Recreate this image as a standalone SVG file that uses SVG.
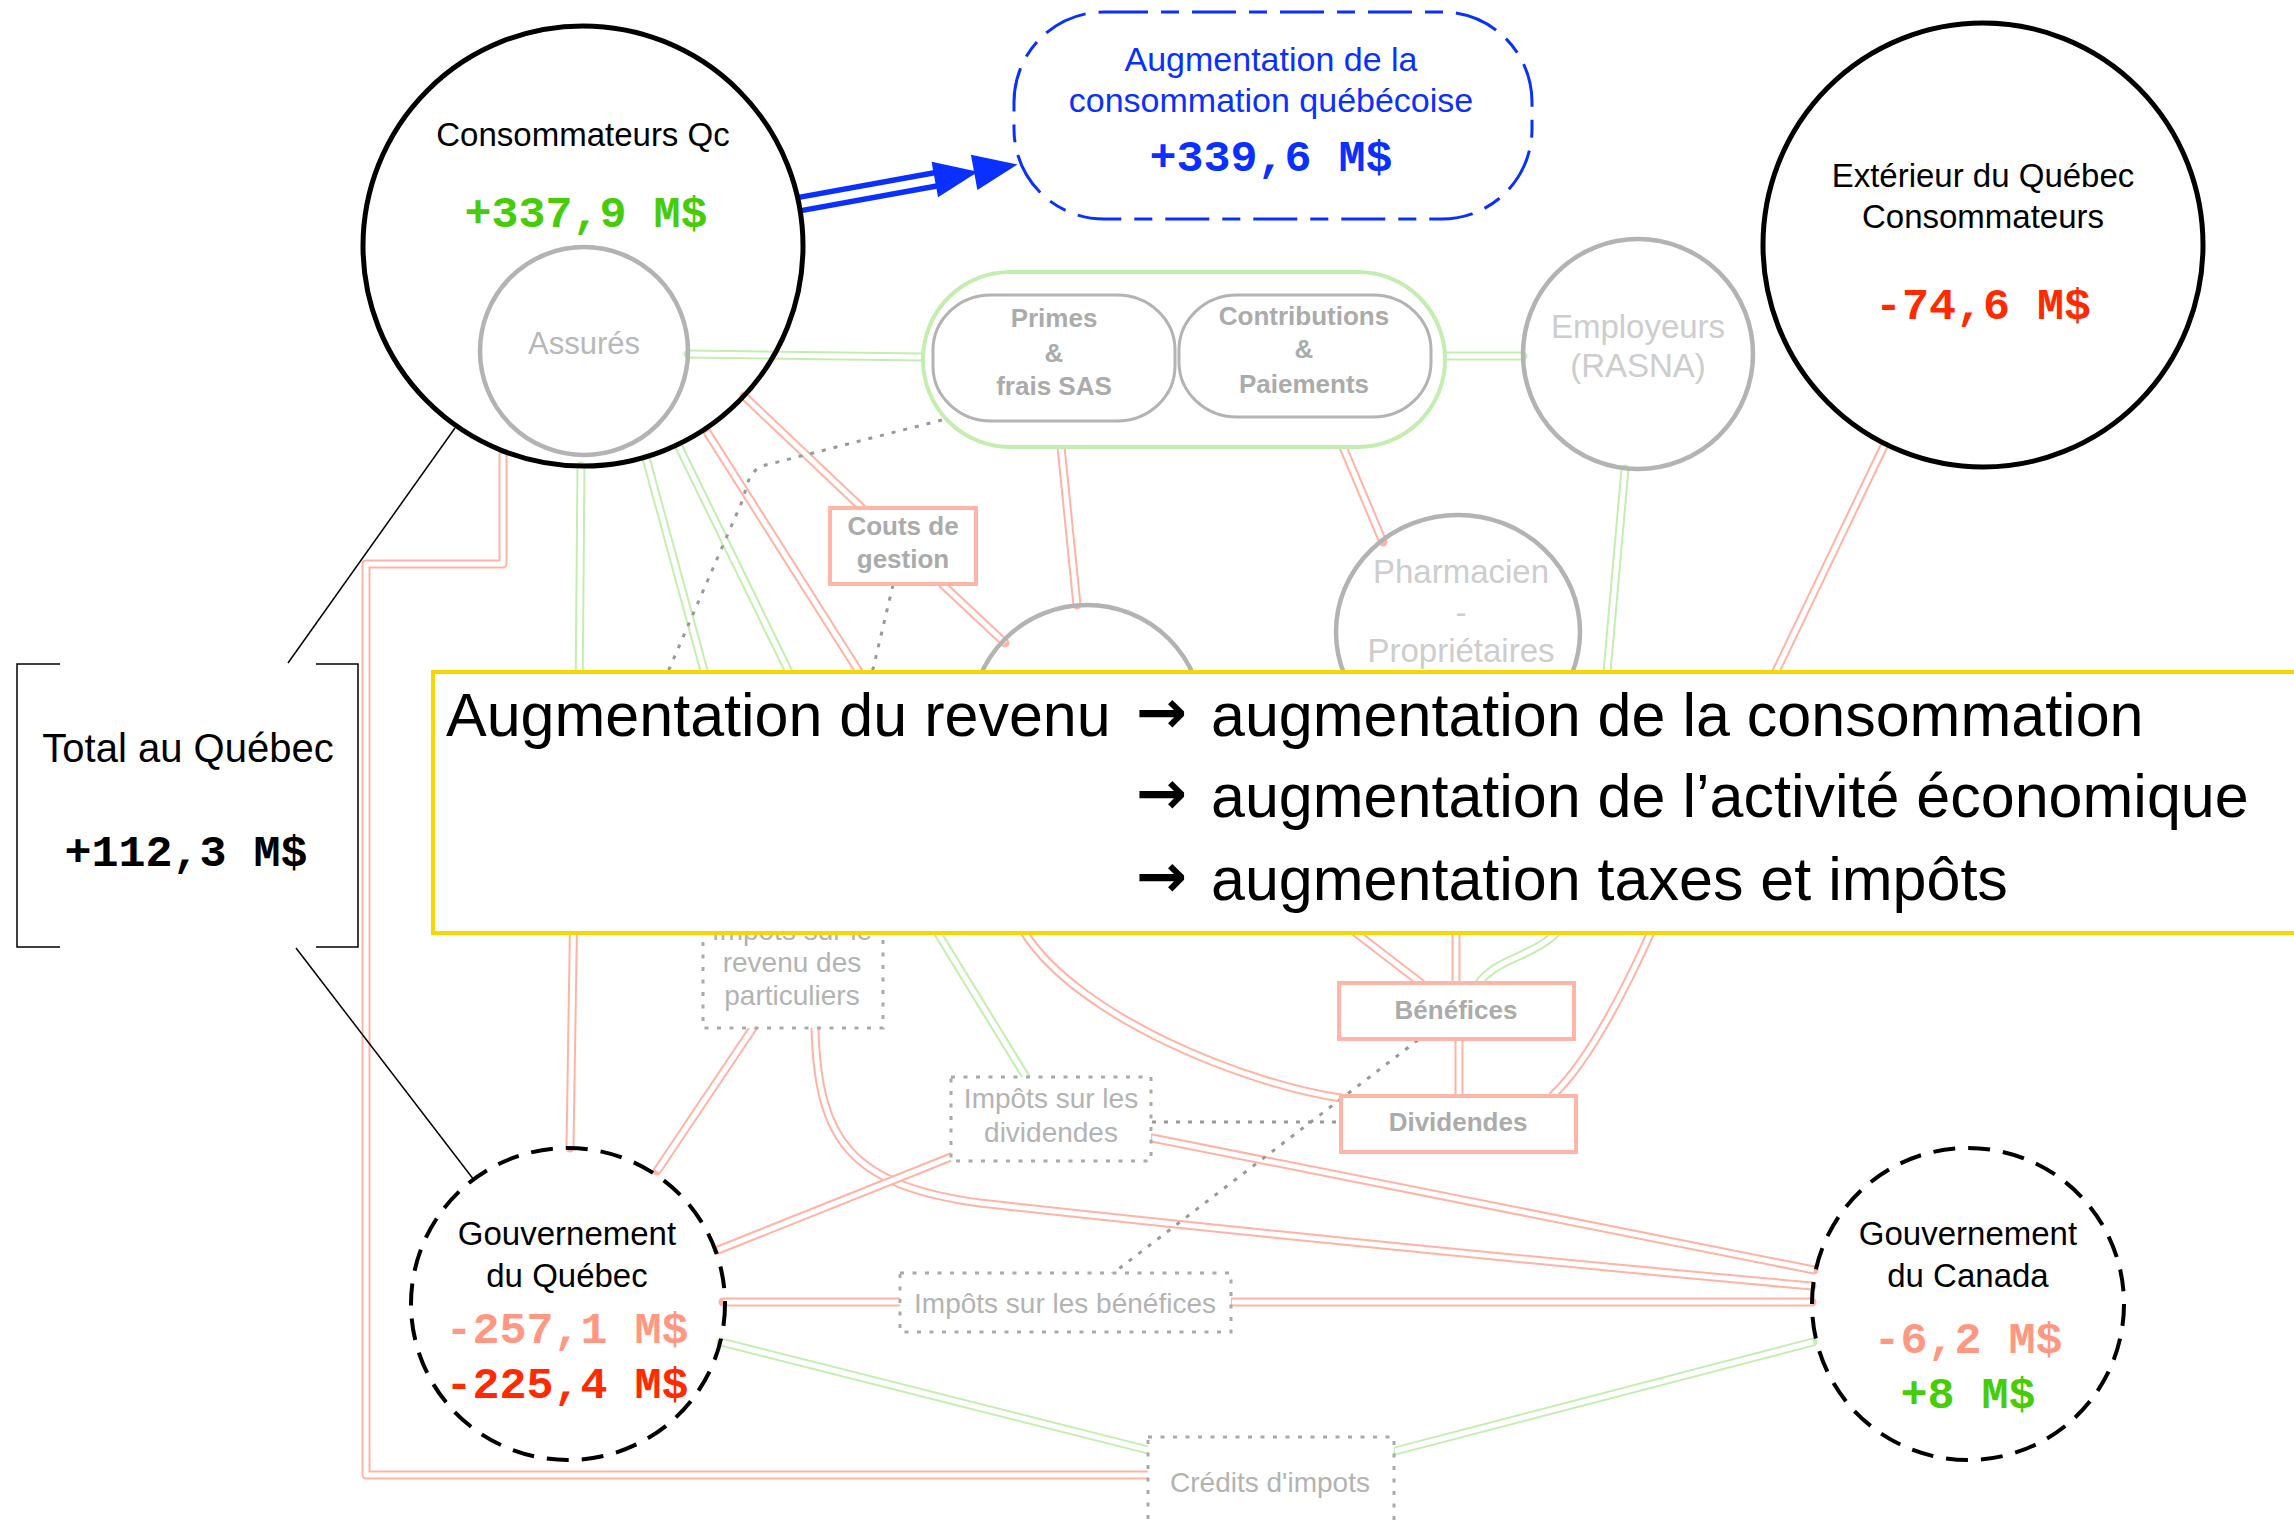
<svg xmlns="http://www.w3.org/2000/svg" width="2294" height="1527" viewBox="0 0 2294 1527">
<style>
text{font-family:"Liberation Sans",Arial,sans-serif;text-anchor:middle}
.blk{fill:#000;font-size:33px}
.mono{font-family:"Liberation Mono","Courier New",monospace;font-weight:bold;font-size:45px}
.grn{fill:#46cc08}
.red{fill:#ff2a00}
.sal{fill:#ff9882}
.blu{fill:#0a30ff}
.gtx{fill:#b8b8b8;font-size:31px}
.ltx{fill:#cdcdcd;font-size:33px}
.btx{fill:#ababab;font-size:26px;font-weight:bold}
.dtx{fill:#b3b3b3;font-size:28px}
.bigc{fill:none;stroke:#000;stroke-width:5}
.dashc{fill:none;stroke:#000;stroke-width:4;stroke-dasharray:22 13}
.grayc{fill:none;stroke:#b3b3b3;stroke-width:4.5}
.grayr{fill:#fff;stroke:#b3b3b3;stroke-width:3}
.pbox{fill:#fff;stroke:#ffb5a8;stroke-width:4}
.dbox{fill:#fff;stroke:#aaa;stroke-width:3;stroke-dasharray:4 8.5}
.go{fill:none;stroke:#c3eeb0;stroke-width:9;stroke-linecap:round;stroke-linejoin:round}
.ro{fill:none;stroke:#ffb3a5;stroke-width:9;stroke-linecap:round;stroke-linejoin:round}
.in{fill:none;stroke:#fff;stroke-width:5;stroke-linejoin:round}
.dot{fill:none;stroke:#999;stroke-width:3;stroke-dasharray:4 8}
.thin{fill:none;stroke:#000;stroke-width:1.5}
.big{fill:#000;font-size:61px;text-anchor:start}
.arr{font-family:"DejaVu Sans",sans-serif;font-weight:bold}
</style>
<defs>
<path id="g1" d="M688,354 L923,357"/>
<path id="g2" d="M1445,356 L1523,356"/>
<path id="g3" d="M581,466 L579,700"/>
<path id="g4" d="M646,458 L712,700"/>
<path id="g5" d="M679,447 L789,672 L937,932 L1026,1077"/>
<path id="g6" d="M1625,469 L1607,672 L1562,925 C1548,950 1505,958 1490,972 Q1482,978 1479,983"/>
<path id="g7" d="M721,1342 L1148,1450"/>
<path id="g8" d="M1395,1451 L1813,1342"/>
<path id="r1" d="M744,396 L862,508"/>
<path id="r2" d="M943,585 L1005,643"/>
<path id="r3" d="M707,432 L1024,932 C1079,1019 1250,1085 1341,1098"/>
<path id="r4" d="M503,454 L503,564 L366,564 L366,1475 L1148,1475"/>
<path id="r5" d="M577,700 L570,1148"/>
<path id="r6" d="M753,1028 L657,1171"/>
<path id="r7" d="M815,1028 C818,1140 850,1185 980,1203 C1150,1222 1500,1258 1812,1286"/>
<path id="r8" d="M951,1157 L718,1250"/>
<path id="r9" d="M1152,1138 L1814,1270"/>
<path id="r10" d="M723,1302 L900,1302"/>
<path id="r11" d="M1232,1302 L1812,1302"/>
<path id="r12" d="M1459,1039 L1459,1096"/>
<path id="r13" d="M1170,790 L1421,983"/>
<path id="r14" d="M1456,750 L1456,983"/>
<path id="r15" d="M1884,446 L1652,930 C1625,990 1590,1060 1553,1095"/>
<path id="r16" d="M1061,447 L1077,605"/>
<path id="r17" d="M1343,447 L1383,542"/>
<polygon id="tete" points="0,-18 44,0 0,18" fill="#0a30ff"/>
</defs>
<rect width="2294" height="1527" fill="#fff"/>

<g id="connectors">
  <use href="#g1" class="go"/><use href="#g1" class="in"/>
  <use href="#g2" class="go"/><use href="#g2" class="in"/>
  <use href="#g3" class="go"/><use href="#g3" class="in"/>
  <use href="#g4" class="go"/><use href="#g4" class="in"/>
  <use href="#g5" class="go"/><use href="#g5" class="in"/>
  <use href="#g6" class="go"/><use href="#g6" class="in"/>
  <use href="#g7" class="go"/><use href="#g7" class="in"/>
  <use href="#g8" class="go"/><use href="#g8" class="in"/>
  <use href="#r1" class="ro"/><use href="#r1" class="in"/>
  <use href="#r2" class="ro"/><use href="#r2" class="in"/>
  <use href="#r3" class="ro"/><use href="#r3" class="in"/>
  <use href="#r4" class="ro"/><use href="#r4" class="in"/>
  <use href="#r5" class="ro"/><use href="#r5" class="in"/>
  <use href="#r6" class="ro"/><use href="#r6" class="in"/>
  <use href="#r7" class="ro"/><use href="#r7" class="in"/>
  <use href="#r8" class="ro"/><use href="#r8" class="in"/>
  <use href="#r9" class="ro"/><use href="#r9" class="in"/>
  <use href="#r10" class="ro"/><use href="#r10" class="in"/>
  <use href="#r11" class="ro"/><use href="#r11" class="in"/>
  <use href="#r12" class="ro"/><use href="#r12" class="in"/>
  <use href="#r13" class="ro"/><use href="#r13" class="in"/>
  <use href="#r14" class="ro"/><use href="#r14" class="in"/>
  <use href="#r15" class="ro"/><use href="#r15" class="in"/>
  <use href="#r16" class="ro"/><use href="#r16" class="in"/>
  <use href="#r17" class="ro"/><use href="#r17" class="in"/>
  <path class="dot" d="M942,420 L762,466 Q748,472 744,497 L660,690"/>
  <path class="dot" d="M893,585 L868,690"/>
  <path class="dot" d="M1418,1040 L1112,1274"/>
  <path class="dot" d="M1152,1122 L1342,1122"/>
  <path class="thin" d="M288,663 L455,428"/>
  <path class="thin" d="M296,948 L474,1180"/>
  <g id="fleche-bleue" transform="translate(800,204) rotate(-10.3)">
    <path d="M0,0 L142,0" stroke="#0a30ff" stroke-width="19"/>
    <path d="M0,0 L142,0" stroke="#fff" stroke-width="8"/>
    <use href="#tete" x="137"/>
    <use href="#tete" x="177"/>
  </g>
</g>

<g id="consommateurs-qc">
  <circle class="bigc" cx="583" cy="246" r="220"/>
  <text class="blk" x="583" y="146">Consommateurs Qc</text>
  <text class="mono grn" x="586" y="227">+337,9 M$</text>
</g>
<g id="assures">
  <circle class="grayc" cx="584" cy="351" r="104"/>
  <text class="gtx" x="584" y="354">Assurés</text>
</g>
<g id="augmentation-consommation">
  <rect x="1014" y="12" width="518" height="207" rx="90" ry="90" fill="none" stroke="#0a30ff" stroke-width="3" stroke-dasharray="44 13 18 13"/>
  <text class="blu" x="1271" y="71" font-size="34">Augmentation de la</text>
  <text class="blu" x="1271" y="112" font-size="34">consommation québécoise</text>
  <text class="mono blu" x="1271" y="171">+339,6 M$</text>
</g>
<g id="primes-contributions">
  <rect x="923" y="272" width="522" height="175" rx="87" ry="87" fill="#fff" stroke="#c3eeb0" stroke-width="4"/>
</g>
<g id="primes">
  <rect class="grayr" x="933" y="295" width="242" height="126" rx="58" ry="55"/>
  <text class="btx" x="1054" y="327">Primes</text>
  <text class="btx" x="1054" y="362">&amp;</text>
  <text class="btx" x="1054" y="395">frais SAS</text>
</g>
<g id="contributions">
  <rect class="grayr" x="1179" y="295" width="252" height="122" rx="58" ry="55"/>
  <text class="btx" x="1304" y="325">Contributions</text>
  <text class="btx" x="1304" y="358">&amp;</text>
  <text class="btx" x="1304" y="393">Paiements</text>
</g>
<g id="employeurs">
  <circle class="grayc" cx="1638" cy="354" r="115"/>
  <text class="ltx" x="1638" y="338">Employeurs</text>
  <text class="ltx" x="1638" y="377">(RASNA)</text>
</g>
<g id="exterieur">
  <ellipse class="bigc" cx="1983" cy="245" rx="220" ry="222"/>
  <text class="blk" x="1983" y="187">Extérieur du Québec</text>
  <text class="blk" x="1983" y="228">Consommateurs</text>
  <text class="mono red" x="1983" y="319">-74,6 M$</text>
</g>
<g id="couts-gestion">
  <rect class="pbox" x="830" y="508" width="146" height="76"/>
  <text class="btx" x="903" y="535">Couts de</text>
  <text class="btx" x="903" y="568">gestion</text>
</g>
<g id="noeud-central">
  <circle class="grayc" cx="1087" cy="721" r="116"/>
</g>
<g id="pharmacien">
  <ellipse class="grayc" cx="1458" cy="632" rx="122" ry="117"/>
  <text class="ltx" x="1461" y="583">Pharmacien</text>
  <text class="ltx" x="1461" y="624">-</text>
  <text class="ltx" x="1461" y="662">Propriétaires</text>
</g>
<g id="impots-revenu">
  <rect class="dbox" x="703" y="895" width="180" height="133"/>
  <text class="dtx" x="792" y="940">Impôts sur le</text>
  <text class="dtx" x="792" y="972">revenu des</text>
  <text class="dtx" x="792" y="1005">particuliers</text>
</g>
<g id="benefices">
  <rect class="pbox" x="1339" y="983" width="235" height="56"/>
  <text class="btx" x="1456" y="1019">Bénéfices</text>
</g>
<g id="dividendes">
  <rect class="pbox" x="1341" y="1096" width="235" height="56"/>
  <text class="btx" x="1458" y="1131">Dividendes</text>
</g>
<g id="impots-dividendes">
  <rect class="dbox" x="951" y="1077" width="200" height="84"/>
  <text class="dtx" x="1051" y="1108">Impôts sur les</text>
  <text class="dtx" x="1051" y="1142">dividendes</text>
</g>
<g id="impots-benefices">
  <rect class="dbox" x="900" y="1273" width="331" height="59"/>
  <text class="dtx" x="1065" y="1313">Impôts sur les bénéfices</text>
</g>
<g id="credits-impots">
  <rect class="dbox" x="1148" y="1437" width="246" height="120"/>
  <text class="dtx" x="1270" y="1492">Crédits d'impots</text>
</g>
<g id="gouv-quebec">
  <ellipse class="dashc" cx="568" cy="1304" rx="157" ry="156"/>
  <text class="blk" x="567" y="1245">Gouvernement</text>
  <text class="blk" x="567" y="1287">du Québec</text>
  <text class="mono sal" x="567" y="1343">-257,1 M$</text>
  <text class="mono red" x="567" y="1398">-225,4 M$</text>
</g>
<g id="gouv-canada">
  <ellipse class="dashc" cx="1968" cy="1304" rx="156" ry="156"/>
  <text class="blk" x="1968" y="1245">Gouvernement</text>
  <text class="blk" x="1968" y="1287">du Canada</text>
  <text class="mono sal" x="1968" y="1353">-6,2 M$</text>
  <text class="mono grn" x="1968" y="1408">+8 M$</text>
</g>
<g id="total-quebec">
  <path class="thin" d="M60,664 L17,664 L17,947 L60,947 M316,664 L358,664 L358,947 L316,947"/>
  <text x="188" y="762" font-size="40" fill="#000">Total au Québec</text>
  <text class="mono" x="186" y="866" fill="#000">+112,3 M$</text>
</g>
<g id="note">
  <rect x="433" y="672" width="1900" height="261" fill="#fff" stroke="#f7d700" stroke-width="4"/>
  <text class="big" x="446" y="736">Augmentation du revenu</text>
  <text class="big arr" x="1136" y="733" font-size="52">→</text>
  <text class="big" x="1211" y="736">augmentation de la consommation</text>
  <text class="big arr" x="1136" y="814" font-size="52">→</text>
  <text class="big" x="1211" y="817">augmentation de l’activité économique</text>
  <text class="big arr" x="1136" y="897" font-size="52">→</text>
  <text class="big" x="1211" y="900">augmentation taxes et impôts</text>
</g>
</svg>
